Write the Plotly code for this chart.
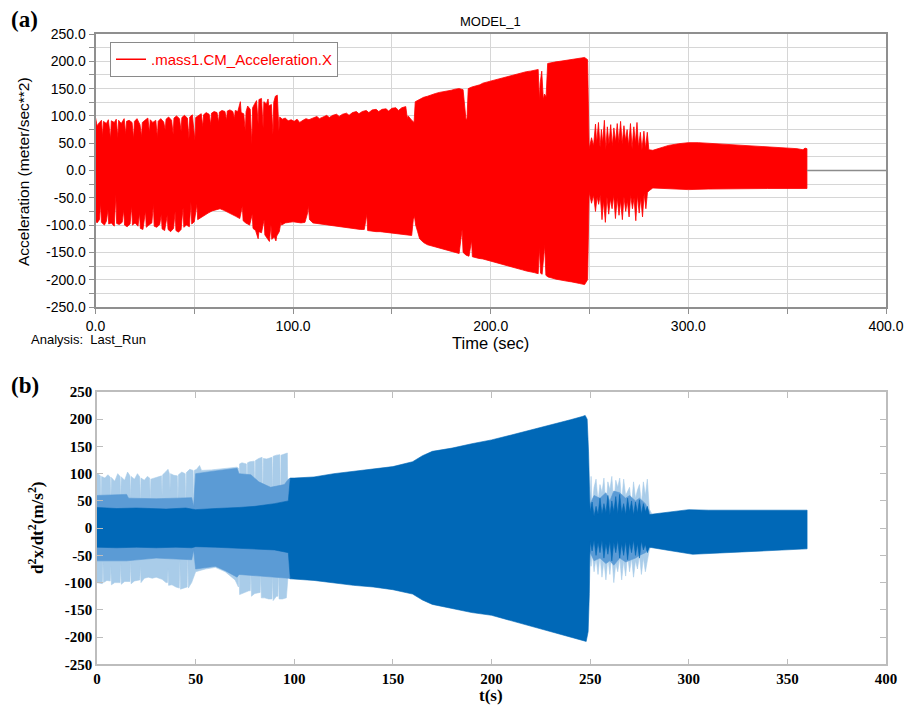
import plotly.graph_objects as go

# ---------------- Panel (a): red acceleration envelope (outline vertices) ----------------
A_UP_T = [0, 0.8, 2, 3, 3.6, 4, 5.5, 6.5, 7.6, 8, 9.5, 10.5, 11.3, 11.7, 13, 14.5, 15.3, 15.7, 17, 18.5, 19.3, 19.7,
          21, 22.5, 23.3, 23.7, 25, 26.5, 27.3, 27.7, 29, 30.5, 31.3, 31.7, 33, 34.5, 35.3, 35.7, 37, 38.5, 39.3,
          39.7, 41, 42.5, 43.3, 43.7, 45, 46.5, 47.3, 47.7, 49, 50.3, 50.7, 52, 53.5, 54.3, 54.7, 56, 57.5, 58.3,
          58.7, 60, 61.5, 62.3, 62.7, 64, 65.5, 66.3, 66.7, 68, 69.5, 70.3, 70.7, 72, 73.3, 73.7, 75, 75.8, 76.2,
          77, 78.3, 79.1, 79.5, 80.5, 81.5, 82.3, 82.7, 84, 84.8, 85.2, 86.5, 87.3, 87.7, 89, 89.8, 90.2, 91, 92,
          92.8, 93.2, 94.5, 96, 97.5, 99, 100.5, 102, 103.3, 105, 106.5, 108, 110, 112, 113.3, 115, 117, 118.3,
          120, 122, 123.3, 125, 127, 128.3, 130, 132, 133.3, 135, 137, 138.3, 140, 142, 143.3, 145, 147, 148.3,
          150, 152, 153.3, 155, 157, 157.8, 158.2, 160, 161.2, 161.8, 164, 166, 168, 170, 172, 174, 176, 178, 180,
          182, 184, 186, 187.5, 188, 188.6, 190.5, 192.5, 194.5, 196, 198, 200, 202, 204, 206, 208, 210, 212, 214,
          216, 218, 220, 222, 224, 224.6, 225, 225.8, 226.6, 227.2, 228, 228.8, 231, 233, 235, 237, 239, 241, 243,
          245, 247.5, 249, 249.8, 251, 252, 253, 253.6, 254.5, 255.3, 256, 256.6, 257.5, 258.2, 259, 259.8, 260.7,
          261.5, 262.3, 263.2, 264, 264.8, 265.7, 266.5, 267.4, 268.2, 269, 269.8, 270.7, 271.5, 272.4, 273.2,
          274, 274.8, 275.7, 276.5, 277.5, 278.3, 279.2, 280, 282, 286, 290, 295, 300, 305, 310, 320, 330, 340,
          350, 355, 358, 359, 360]
A_UP_V = [97, 82, 88, 92, 62, 90, 86, 93, 58, 91, 88, 94, 60, 92, 86, 95, 66, 90, 92, 88, 58, 90,
          95, 84, 62, 88, 92, 96, 70, 93, 88, 92, 60, 90, 95, 89, 74, 94, 98, 92, 66,
          96, 100, 95, 72, 97, 101, 96, 58, 98, 102, 55, 97, 101, 104, 80, 102, 106, 103, 84,
          105, 108, 106, 88, 107, 110, 108, 92, 109, 111, 108, 95, 110, 108, 126, 106, 104, 72, 108,
          118, 112, 48, 115, 122, 128, 85, 130, 132, 78, 126, 122, 131, 118, 121, 66, 125, 136, 138,
          72, 98, 94, 96, 91, 93, 90, 94, 88, 92, 95, 93, 96, 99, 95, 98, 101, 97,
          101, 103, 99, 103, 105, 101, 106, 108, 104, 108, 110, 106, 111, 112, 108, 112, 113, 109,
          114, 115, 110, 115, 117, 95, 100, 92, 88, 126, 130, 134, 136, 139, 141, 143, 144, 146, 147,
          149, 150, 148, 92, 96, 150, 153, 155, 157, 160, 162, 164, 166, 168, 170, 172, 174, 176, 178,
          179, 181, 182, 183, 185, 128, 160, 182, 130, 140, 135, 196, 198, 199, 200, 201, 202, 203, 204,
          205, 207, 203, 40, 60, 45, 85, 50, 88, 42, 75, 50, 92, 38, 80, 48, 84,
          45, 78, 52, 86, 50, 90, 48, 82, 55, 75, 45, 86, 40, 80, 50,
          88, 42, 70, 38, 72, 40, 70, 38, 37, 42, 46, 49, 51, 51, 50, 48, 46, 44,
          42, 40, 38, 41, 40]
A_LO_T = [0, 0.8, 2, 2.6, 3, 4.5, 5.5, 6.3, 6.7, 8, 9.5, 10.3, 10.7, 12, 13.5, 14.3, 14.7, 16, 17.5, 18.3, 18.7,
          20, 21.5, 22.3, 22.7, 24, 25.3, 25.7, 27, 28.5, 29.3, 29.7, 31, 32.5, 33.3, 33.7, 35, 36.3, 36.7, 38,
          39.5, 40.3, 40.7, 42, 43.3, 44.3, 44.7, 46, 47.5, 48.3, 48.7, 50, 51.3, 51.7, 53, 55, 57, 59, 61, 63,
          65, 67, 69, 71, 73, 74.3, 74.7, 76, 78, 79.3, 79.7, 81, 82.3, 82.7, 84, 85.3, 85.7, 87, 88, 88.8, 89.2,
          90.5, 91.3, 91.7, 93, 93.8, 94.2, 96, 98, 100, 102, 104, 106, 107.3, 107.7, 108.3, 110, 112, 114, 116,
          118, 120, 122, 124, 126, 128, 130, 132, 134, 136, 137.3, 137.7, 140, 142, 144, 146, 148, 150, 152, 154,
          156, 158, 160, 160.8, 161.4, 162, 163, 164, 166, 168, 170, 172, 174, 176, 178, 180, 182, 184, 185.5,
          186, 187.5, 189, 190.3, 190.7, 192, 194, 196, 198, 200, 202, 204, 206, 208, 210, 212, 214, 216, 218,
          220, 222, 224, 224.6, 225.2, 226, 227.3, 227.9, 229, 231, 233, 235, 237, 239, 241, 243, 245, 247.5,
          249, 249.8, 251, 252, 253, 253.8, 254.6, 255.4, 256.3, 257.1, 258, 258.8, 259.7, 260.5, 261.4, 262.2,
          263.1, 264, 264.9, 265.7, 266.6, 267.4, 268.3, 269.1, 270, 270.8, 271.7, 272.5, 273.4, 274.2, 275.1,
          275.9, 276.8, 277.6, 278.5, 279.3, 280.5, 282, 290, 300, 310, 320, 340, 360]
A_LO_V = [-92, -96, -90, -60, -95, -100, -93, -72, -98, -96, -102, -45, -97, -99, -95, -72, -100, -103, -98, -65,
          -100, -96, -102, -78, -106, -108, -74, -104, -100, -96, -62, -102, -104, -99, -80, -107, -110, -82,
          -108, -112, -106, -75, -110, -113, -108, -68, -104, -100, -103, -58, -98, -94, -62, -90, -86, -82,
          -78, -74, -72, -70, -73, -76, -80, -84, -88, -65, -92, -96, -100, -80, -106, -110, -125, -112, -114,
          -90, -118, -125, -130, -100, -126, -122, -129, -120, -112, -95, -100, -96, -95, -94, -95, -96, -95,
          -78, -64, -90, -96, -98, -99, -100, -101, -102, -103, -104, -105, -106, -107, -107, -108, -108, -80,
          -110, -111, -112, -112, -113, -114, -115, -116, -116, -117, -118, -119, -90, -84, -100, -112, -125,
          -132, -136, -139, -141, -143, -145, -147, -148, -150, -152, -108, -150, -155, -157, -128, -158, -160,
          -161, -162, -164, -165, -168, -170, -172, -174, -176, -178, -180, -182, -184, -186, -187, -189,
          -141, -188, -190, -137, -192, -195, -197, -199, -200, -202, -203, -204, -205, -207, -209, -200, -40,
          -60, -45, -75, -48, -62, -45, -90, -55, -95, -48, -80, -52, -70, -45, -88, -50, -82, -55, -90, -48,
          -75, -55, -85, -45, -70, -50, -92, -45, -78, -50, -85, -42, -70, -40, -36, -32, -34, -35, -34, -33,
          -33, -33]
A_TAIL_T = [360, 400]
A_TAIL_V = [0, 0]

A_XTICKS = [0, 50, 100, 150, 200, 250, 300, 350, 400]
A_XLABELS = ["0.0", "", "100.0", "", "200.0", "", "300.0", "", "400.0"]
A_YTICKS = list(range(-250, 251, 25))
A_YLABELS = [f"{v:.1f}" if v % 50 == 0 else "" for v in A_YTICKS]

# ---------------- Panel (b): blue envelopes ----------------
B_DARK_UP_T = [0, 5, 10, 20, 30, 35, 40, 45, 48, 50, 60, 70, 72, 80, 90, 97, 98, 100, 110, 120, 130, 140, 150,
               160, 165, 170, 180, 190, 200, 210, 220, 230, 240, 246, 247.5, 248.5, 249.2, 250, 251, 252, 253,
               254, 255, 256, 257, 258, 259, 260, 261, 262, 263, 264, 265, 266, 267, 268, 269, 270, 271, 272,
               273, 274, 275, 276, 277, 278, 279, 280, 290, 300, 310, 320, 330, 340, 350, 360]
B_DARK_UP_V = [38, 37, 36, 37, 36, 35, 36, 37, 35, 34, 36, 37, 38, 40, 45, 50, 92, 92, 94, 100, 104, 108, 113,
               122, 133, 141, 147, 155, 162, 171, 180, 190, 199, 205, 207, 200, 140, 30, 48, 22, 40,
               25, 55, 26, 45, 28, 60, 24, 50, 30, 58, 26, 62, 28, 45, 25, 55, 30, 50, 24,
               48, 28, 52, 26, 45, 30, 40, 25, 30, 34, 33, 33, 33, 33, 33, 33]
B_DARK_LO_T = [0, 10, 20, 30, 40, 48, 50, 60, 70, 80, 90, 97, 98, 110, 120, 130, 140, 150, 160, 165, 170, 180,
               190, 200, 210, 220, 230, 240, 246, 248, 249, 249.6, 250, 251, 252, 253, 254, 255, 256, 257, 258,
               259, 260, 261, 262, 263, 264, 265, 266, 267, 268, 269, 270, 271, 272, 273, 274, 275, 276, 277,
               278, 279, 280, 290, 302, 320, 340, 360]
B_DARK_LO_V = [-35, -36, -35, -36, -35, -36, -34, -35, -36, -38, -40, -45, -93, -96, -101, -105, -108, -113,
               -121, -132, -140, -147, -155, -160, -170, -180, -190, -199, -206, -208, -190, -120, -25, -42,
               -22, -50, -26, -45, -22, -55, -28, -48, -24, -60, -26, -45, -22, -55, -28, -50, -24, -58,
               -26, -45, -22, -50, -28, -55, -24, -40, -30, -45, -35, -41, -48, -45, -41, -38]

B_MED1_UP_T = [0, 15, 16, 30, 40, 48, 49, 50, 60, 71, 72, 78, 82, 88, 95, 97, 98]
B_MED1_UP_V = [60, 62, 55, 54, 55, 56, 40, 100, 105, 110, 100, 98, 85, 75, 80, 90, 92]
B_MED1_LO_T = [0, 15, 30, 48, 49, 50, 60, 65, 71, 72, 80, 90, 97, 98]
B_MED1_LO_V = [-60, -60, -55, -58, -40, -75, -70, -78, -90, -85, -88, -90, -92, -93]
B_MED2_UP_T = [249.5, 252, 255, 258, 260, 262, 265, 268, 270, 273, 275, 278, 280]
B_MED2_UP_V = [40, 60, 55, 65, 50, 68, 65, 55, 60, 50, 55, 45, 30]
B_MED2_LO_T = [249.5, 252, 255, 258, 260, 262, 265, 268, 270, 273, 275, 278, 280]
B_MED2_LO_V = [-40, -60, -55, -65, -60, -68, -55, -62, -60, -55, -50, -45, -35]

B_LIGHT1_UP_T = [0, 1.7, 2, 2.3, 4, 5.5, 6.7, 7, 7.3, 9, 10.5, 11.7, 12, 12.3, 14, 15.5, 16.7, 17, 17.3, 19, 20.5,
                 21.7, 22, 22.3, 24, 25.5, 26.7, 27, 27.3, 29, 31, 32.7, 33, 33.3, 35, 36, 36.7, 37, 37.3, 39,
                 40.7, 41, 41.3, 43, 44.7, 45, 45.3, 47, 48.7, 49, 49.3, 50.5, 52, 53, 58, 62, 66, 71, 71.7, 72,
                 72.3, 73.5, 75.7, 76, 76.3, 77.5, 79.7, 80, 80.3, 82, 83.7, 84, 84.3, 86, 88.7, 89, 89.3, 91,
                 92.7, 93, 93.3, 95, 96.5, 96.8, 97.3, 98]
B_LIGHT1_UP_V = [101, 96, 42, 95, 92, 98, 94, 46, 93, 86, 100, 95, 50, 94, 88, 103, 96, 55, 95, 90, 100,
                 94, 45, 92, 88, 95, 92, 50, 90, 92, 95, 96, 60, 98, 104, 108, 100, 70, 100, 97,
                 96, 45, 98, 103, 100, 35, 102, 108, 106, 30, 106, 108, 115, 106, 107, 108, 110, 112, 110, 60,
                 118, 120, 118, 40, 120, 122, 123, 50, 124, 128, 130, 30, 128, 127, 130, 60, 132, 134,
                 135, 20, 134, 136, 138, 25, 60, 92]
B_LIGHT1_LO_T = [0, 2.7, 3, 3.3, 5, 6.7, 7, 7.3, 9, 11.7, 12, 12.3, 14, 16.7, 17, 17.3, 19, 21.7, 22, 22.3, 24,
                 26, 28, 30, 33, 35, 35.7, 36, 36.3, 38, 40, 41.7, 42, 42.3, 44, 45.7, 46, 46.3, 48, 50, 55, 60,
                 65, 70, 71.7, 72, 72.3, 74, 77, 77.7, 78, 78.3, 80, 82.7, 83, 83.3, 85, 87, 88.7, 89, 89.3, 91,
                 91.7, 92, 92.3, 94, 96, 96.8, 98]
B_LIGHT1_LO_V = [-100, -102, -60, -100, -96, -97, -70, -104, -100, -100, -65, -103, -98, -98, -60, -102, -97,
                 -95, -70, -100, -92, -90, -92, -90, -94, -100, -100, -75, -105, -104, -108, -110, -60, -112,
                 -110, -108, -40, -110, -100, -80, -75, -72, -80, -95, -108, -70, -122, -120, -115, -115, -75,
                 -125, -120, -118, -80, -128, -128, -130, -130, -85, -133, -125, -125, -70, -130, -130, -128,
                 -90, -93]
B_LIGHT2_UP_T = [249.5, 250.5, 251, 252, 253, 254, 255, 256, 257, 258, 259, 260, 261, 262, 263, 264, 265, 266,
                 267, 268, 270, 271, 272, 273, 274, 275, 276, 277, 278, 279, 280, 281]
B_LIGHT2_UP_V = [30, 95, 40, 75, 90, 50, 80, 65, 92, 40, 85, 70, 95, 45, 88, 75, 92, 50, 90, 60, 75, 40, 85, 55,
                 70, 80, 45, 85, 60, 90, 35, 28]
B_LIGHT2_LO_T = [249.5, 250.5, 251, 252, 253, 254, 255, 256, 257, 258, 259, 260, 261, 262, 263, 264, 265, 266,
                 267, 268, 269, 270, 271, 272, 273, 274, 275, 276, 277, 278, 279, 280, 281]
B_LIGHT2_LO_V = [-30, -70, -45, -80, -55, -85, -50, -90, -60, -95, -55, -85, -50, -100, -65, -80, -55, -95, -60,
                 -88, -50, -80, -55, -90, -60, -75, -50, -85, -55, -80, -60, -40, -32]

B_TICKS_X = [0, 50, 100, 150, 200, 250, 300, 350, 400]
B_TICKS_Y = [-250, -200, -150, -100, -50, 0, 50, 100, 150, 200, 250]

RED = "#ff0000"
DARK = "#0068b7"
MED = "#5b9bd5"
LIGHT = "#a9cce9"
SANS = "Liberation Sans, Arial, sans-serif"
SERIF = "Liberation Serif, Times New Roman, serif"


def polygon(t_up, v_up, t_lo, v_lo):
    return list(t_up) + list(t_lo)[::-1], list(v_up) + list(v_lo)[::-1]


fig = go.Figure()

# Panel (a)
px_, py_ = polygon(A_UP_T, A_UP_V, A_LO_T, A_LO_V)
fig.add_trace(go.Scatter(x=px_, y=py_, fill="toself", fillcolor=RED, mode="lines",
                         line=dict(color=RED, width=0.8), showlegend=False, xaxis="x", yaxis="y",
                         hoverinfo="skip"))
fig.add_trace(go.Scatter(x=A_TAIL_T, y=A_TAIL_V, mode="lines", line=dict(color="#8c8c8c", width=1.5),
                         showlegend=False, xaxis="x", yaxis="y"))
fig.add_trace(go.Scatter(x=[None], y=[None], mode="lines", line=dict(color=RED, width=1.5),
                         name=".mass1.CM_Acceleration.X", xaxis="x", yaxis="y"))

# Panel (b)
for (tu, vu, tl, vl, col) in [
    (B_LIGHT1_UP_T, B_LIGHT1_UP_V, B_LIGHT1_LO_T, B_LIGHT1_LO_V, LIGHT),
    (B_LIGHT2_UP_T, B_LIGHT2_UP_V, B_LIGHT2_LO_T, B_LIGHT2_LO_V, LIGHT),
    (B_MED1_UP_T, B_MED1_UP_V, B_MED1_LO_T, B_MED1_LO_V, MED),
    (B_MED2_UP_T, B_MED2_UP_V, B_MED2_LO_T, B_MED2_LO_V, MED),
    (B_DARK_UP_T, B_DARK_UP_V, B_DARK_LO_T, B_DARK_LO_V, DARK),
]:
    qx, qy = polygon(tu, vu, tl, vl)
    fig.add_trace(go.Scatter(x=qx, y=qy, fill="toself", fillcolor=col, mode="lines",
                             line=dict(color=col, width=0.6), showlegend=False, xaxis="x2", yaxis="y2",
                             hoverinfo="skip"))

# The page body margin is removed (post_script below), so figure pixels equal window pixels.
W, H = 916, 707


def dx(p):
    return p / W


def dy(p):
    return 1 - p / H


fig.update_layout(
    width=W, height=H, margin=dict(l=0, r=0, t=0, b=0, pad=0, autoexpand=False),
    paper_bgcolor="white", plot_bgcolor="white",
    showlegend=True,
    legend=dict(x=dx(110), y=dy(42), xanchor="left", yanchor="top", itemwidth=30,
                bordercolor="#8a8a8a", borderwidth=1, bgcolor="white",
                font=dict(family=SANS, size=15, color=RED)),
    xaxis=dict(domain=[dx(95.5), dx(886)], range=[0, 400], anchor="y", automargin=False,
               tickmode="array", tickvals=A_XTICKS, ticktext=A_XLABELS,
               showgrid=True, gridcolor="#d6d6d6", gridwidth=1,
               showline=True, linecolor="#8f8f8f", linewidth=2, mirror=True,
               ticks="outside", ticklen=5, tickcolor="#8f8f8f", zeroline=False,
               tickfont=dict(family=SANS, size=14, color="black")),
    yaxis=dict(domain=[dy(307), dy(34)], range=[-250, 250], anchor="x", automargin=False,
               tickmode="array", tickvals=A_YTICKS, ticktext=A_YLABELS,
               showgrid=True, gridcolor="#d6d6d6", gridwidth=1,
               showline=True, linecolor="#8f8f8f", linewidth=2, mirror=True,
               ticks="outside", ticklen=5, tickcolor="#8f8f8f", zeroline=False,
               tickfont=dict(family=SANS, size=14, color="black")),
    xaxis2=dict(domain=[dx(97), dx(886)], range=[0, 400], anchor="y2", automargin=False,
                tickmode="array", tickvals=B_TICKS_X, ticktext=[str(v) for v in B_TICKS_X],
                showgrid=False, showline=True, linecolor="#bdbdbd", linewidth=1.5, mirror="ticks",
                ticks="inside", ticklen=6, tickcolor="#bdbdbd", zeroline=False,
                tickfont=dict(family=SERIF, size=15, color="black", weight="bold")),
    yaxis2=dict(domain=[dy(664.3), dy(392)], range=[-250, 250], anchor="x2", automargin=False,
                tickmode="array", tickvals=B_TICKS_Y, ticktext=[str(v) for v in B_TICKS_Y],
                showgrid=False, showline=True, linecolor="#bdbdbd", linewidth=1.5, mirror="ticks",
                ticks="inside", ticklen=6, tickcolor="#bdbdbd", zeroline=False,
                tickfont=dict(family=SERIF, size=15, color="black", weight="bold")),
    annotations=[
        dict(text="<b>(a)</b>", x=dx(9), y=dy(20), xref="paper", yref="paper", xanchor="left", yanchor="middle",
             showarrow=False, font=dict(family=SERIF, size=23, color="black")),
        dict(text="<b>(b)</b>", x=dx(9), y=dy(385), xref="paper", yref="paper", xanchor="left", yanchor="middle",
             showarrow=False, font=dict(family=SERIF, size=23, color="black")),
        dict(text="MODEL_1", x=dx(491), y=dy(21), xref="paper", yref="paper", xanchor="center", yanchor="middle",
             showarrow=False, font=dict(family=SANS, size=13, color="black")),
        dict(text="Acceleration (meter/sec**2)", x=dx(24), y=dy(172), xref="paper", yref="paper",
             xanchor="center", yanchor="middle", textangle=-90, showarrow=False,
             font=dict(family=SANS, size=15.5, color="black")),
        dict(text="Time (sec)", x=dx(491), y=dy(343), xref="paper", yref="paper", xanchor="center",
             yanchor="middle", showarrow=False, font=dict(family=SANS, size=16.5, color="black")),
        dict(text="Analysis:  Last_Run", x=dx(29), y=dy(340), xref="paper", yref="paper", xanchor="left",
             yanchor="middle", showarrow=False, font=dict(family=SANS, size=13, color="black")),
        dict(text="<b>d<sup>2</sup>x/dt<sup>2</sup>(m/s<sup>2</sup>)</b>", x=dx(36), y=dy(528), xref="paper",
             yref="paper", xanchor="center", yanchor="middle", textangle=-90, showarrow=False,
             font=dict(family=SERIF, size=17, color="black")),
        dict(text="<b>t(s)</b>", x=dx(491), y=dy(695), xref="paper", yref="paper", xanchor="center",
             yanchor="middle", showarrow=False, font=dict(family=SERIF, size=17, color="black")),
    ],
)

fig.write_html("out.html", config={"displayModeBar": False},
               post_script="document.body.style.margin='0px';")
